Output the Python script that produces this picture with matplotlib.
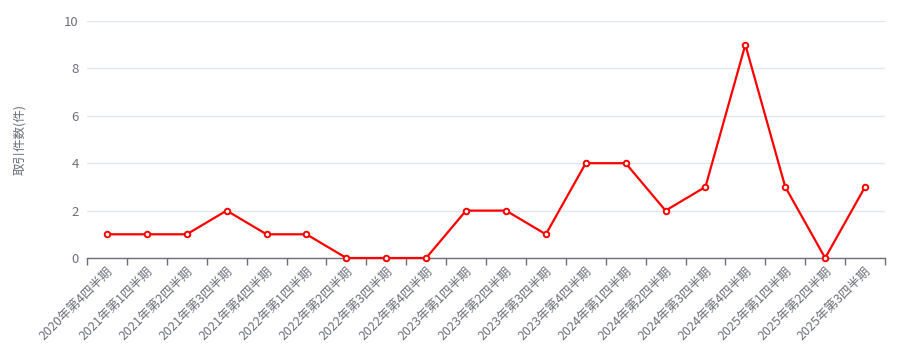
import matplotlib
matplotlib.use("Agg")
import matplotlib.pyplot as plt
import numpy as np

plt.rcParams['font.family'] = ['Noto Sans CJK JP', 'DejaVu Sans']

categories = ["2020年第4四半期", "2021年第1四半期", "2021年第2四半期", "2021年第3四半期",
              "2021年第4四半期", "2022年第1四半期", "2022年第2四半期", "2022年第3四半期",
              "2022年第4四半期", "2023年第1四半期", "2023年第2四半期", "2023年第3四半期",
              "2023年第4四半期", "2024年第1四半期", "2024年第2四半期", "2024年第3四半期",
              "2024年第4四半期", "2025年第1四半期", "2025年第2四半期", "2025年第3四半期"]
values = [1, 1, 1, 2, 1, 1, 0, 0, 0, 2, 2, 1, 4, 4, 2, 3, 9, 3, 0, 3]
y_ticks = [0, 2, 4, 6, 8, 10]
y_label = "取引件数(件)"

text_color = "#6e7079"
grid_color = "#e0e6f1"

fig = plt.figure(figsize=(9.10, 3.57), dpi=100)
ax = fig.add_axes([87/910, 1 - 258/357, (885-87)/910, (258-21)/357])

x = np.arange(len(categories))
ax.plot(x, values, color="#ff0000", linewidth=1.6, marker="o", markersize=4,
        markerfacecolor="white", markeredgecolor="#ff0000", markeredgewidth=1.4,
        zorder=3, clip_on=False)

ax.set_xlim(-0.5, len(categories) - 0.5)
ax.set_ylim(0, 10)
ax.set_yticks(y_ticks)
ax.set_yticklabels([str(v) for v in y_ticks], color=text_color, fontsize=9.5)
ax.tick_params(axis='y', length=0, pad=6)

ax.set_xticks(x)
ax.set_xticklabels(categories, rotation=45, ha="right", rotation_mode="anchor",
                   color=text_color, fontsize=9)
ax.set_xticks(np.arange(-0.5, len(categories), 1.0), minor=True)
ax.tick_params(axis='x', which='major', length=0, pad=5)
ax.tick_params(axis='x', which='minor', length=5, color=text_color, width=1)

ax.grid(axis='y', color=grid_color, linewidth=1)
ax.set_axisbelow(True)
for s in ["top", "right", "left"]:
    ax.spines[s].set_visible(False)
ax.spines["bottom"].set_color(text_color)
ax.spines["bottom"].set_linewidth(1)

fig.text(20/910, 1 - 140/357, y_label, rotation=90, ha="center", va="center",
         color=text_color, fontsize=9)

fig.savefig("out.png", dpi=100)
